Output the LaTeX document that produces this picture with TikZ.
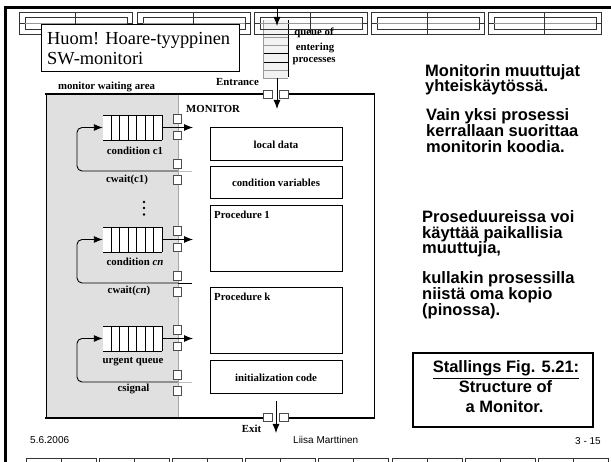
\documentclass[tikz,border=0pt]{standalone}
\usepackage{fontspec}
\setmainfont{Liberation Serif}
\setsansfont{Liberation Sans}
\usetikzlibrary{arrows.meta}
\begin{document}
\begin{tikzpicture}[x=1pt,y=-1pt,
  figlab/.style={font=\fontsize{10.8}{13}\selectfont\bfseries, inner sep=0pt},
  slidetxt/.style={font=\sffamily\bfseries\fontsize{16.5}{16}\selectfont, inner sep=0pt, anchor=base west},
  foot/.style={font=\sffamily\fontsize{10}{12}\selectfont, inner sep=0pt},
  gate/.style={draw=black!70, fill=white, line width=0.6pt, minimum size=8.5pt, inner sep=0pt},
  arr/.style={-{Latex[length=9pt,width=7pt]}, line width=0.9pt},
  strip/.style={draw=black!80, line width=0.7pt},
  mbox/.style={draw, line width=1pt, minimum width=132pt, inner sep=0pt, figlab},
]
\useasboundingbox (0,0) rectangle (611,462);
\fill[white] (0,0) rectangle (611,462);

% slide frame
\draw[line width=2.6pt] (5.5,462) -- (5.5,7.3) -- (611,7.3);

% entrance queue
\fill[black!5] (263,20) rectangle (288,78);
\foreach \yy/\cc in {29/black,37/black!40,45/black!40,53/black,62/black,70/black!40,78/black!40}
  \draw[\cc, line width=0.7pt] (263,\yy) -- (288,\yy);
\draw[black!40, line width=0.6pt] (263,20) -- (263,78);
\draw[line width=0.9pt] (288,20) -- (288,77);
\node[minimum width=25pt, minimum height=58pt, inner sep=0pt] (entq) at (275.5,49) {};

% top decorative strip
\foreach \x in {19,137,254,371,488}{
  \draw[strip] (\x,12) rectangle ++(113,22);
  \draw[strip] (\x+6,17) rectangle ++(102,12);
  \draw[strip] (\x,23) -- ++(6,0) (\x+108,23) -- ++(5,0);
  \draw[black!40, line width=0.6pt] (\x+6,23) -- ++(102,0);
  \draw[strip] (\x+56.5,12) -- ++(0,22);
}
% bottom decorative strip
\foreach \i in {0,...,7}{
  \pgfmathsetmacro\bx{26+73.2*\i}
  \draw[strip] (\bx,470) -- (\bx,458) -- (\bx+70,458) -- (\bx+70,470);
  \draw[strip] (\bx+35,458) -- (\bx+35,470);
}

% Huom box
\node[draw, line width=1.2pt, fill=white, minimum width=198pt, minimum height=47pt, anchor=north west] (huom) at (41,24) {};
\node[font=\fontsize{18.4}{20}\selectfont, inner sep=0pt, anchor=base west] (huom1) at (47,45) {Huom! Hoare-tyyppinen};
\node[font=\fontsize{18.4}{20}\selectfont, inner sep=0pt, anchor=base west] (huom2) at (47,65) {SW-monitori};

% entrance arrows and labels
\coordinate (entTop) at (277,7.3);
\coordinate (entIn) at (277,26);
\coordinate (entOut) at (277,78);
\coordinate (entTip) at (277,109);
\draw[arr] (entTop) -- (entIn);
\node[figlab, anchor=base] (lq1) at (314,36) {queue of};
\node[figlab, anchor=base] (lq2) at (315,51) {entering};
\node[figlab, anchor=base] (lq3) at (314,63) {processes};
\node[figlab, anchor=base] (lent) at (237.5,85.5) {Entrance};
\node[figlab, anchor=base] (lmwa) at (106.5,89.5) {monitor waiting area};

% monitor outline
\fill[black!12] (46,95) rectangle (178,417);
\draw[line width=0.8pt] (46,95) -- (46,417);
\draw[black!35, line width=0.6pt] (178,95) -- (178,417);
\draw[line width=0.8pt] (374,94) -- (374,418);
\draw[line width=2pt] (45,94) -- (264,94) (288,94) -- (375,94);
\draw[line width=2pt] (45,418) -- (264,418) (288,418) -- (375,418);
\draw[arr] (entOut) -- (entTip);
\node[gate] (eg1) at (268,94.5) {};
\node[gate] (eg2) at (284,94.5) {};
\node[figlab, anchor=base west] (lmon) at (186,113) {MONITOR};

% exit
\coordinate (exA) at (276,401);
\coordinate (exB) at (276,433);
\draw[arr] (exA) -- (exB);
\node[gate] (xg1) at (268,417.5) {};
\node[gate] (xg2) at (284,417.5) {};
\node[figlab, anchor=base] (lexit) at (251.5,432.5) {Exit};

% monitor contents
\node[mbox, minimum height=33pt] (local) at (276,144.5) {local data};
\node[mbox, minimum height=32pt] (condv) at (276,183) {condition variables};
\node[mbox, minimum height=66pt] (proc1) at (276,239) {};
\node[mbox, minimum height=66pt] (prock) at (276,321) {};
\node[mbox, minimum height=33pt] (init) at (276,377.5) {initialization code};
\node[figlab, anchor=base west] (lp1) at (214,218.5) {Procedure 1};
\node[figlab, anchor=base west] (lpk) at (214,300.5) {Procedure k};

% queues in waiting area
\foreach \n/\ay/\ly/\ec in {1/127.5/171/black!25, 2/239.5/283/black, 3/338.5/382/black!25}{
  \node[fill=white, minimum width=59pt, minimum height=25pt, inner sep=0pt] (q\n) at (132.5,\ay) {};
  \draw[line width=0.7pt] (103,\ay-12.5) -- (162,\ay-12.5) (103,\ay+12.5) -- (162,\ay+12.5);
  \foreach \k in {0,...,6} \draw[line width=0.6pt] (111+8.5*\k,\ay-12.5) -- ++(0,25);
  \coordinate (out\n) at (193,\ay);
  \coordinate (lp\n) at (178,\ly);
  \coordinate (lpe\n) at (192,\ly);
  \draw[\ec, line width=0.9pt] (lp\n) -- (lpe\n);
  \draw[arr, rounded corners=5pt] (lp\n) -- (77,\ly) -- (77,\ay) -- (q\n.west);
  \draw[arr] (q\n.east) -- (out\n);
  \node[gate] (ga\n) at (177.5,\ay-8.5) {};
  \node[gate] (gb\n) at (177.5,\ay+8) {};
  \node[gate] (gc\n) at (177.5,\ly-7) {};
  \node[gate] (gd\n) at (177.5,\ly+9) {};
}
\node[figlab, anchor=base] (lc1) at (135,154.5) {condition c1};
\node[figlab, anchor=base] (lw1) at (127,182.5) {cwait(c1)};
\node[figlab, anchor=base] (lcn) at (135,265.5) {condition \textit{cn}};
\node[figlab, anchor=base] (lwn) at (129,293.5) {cwait(\textit{cn})};
\node[figlab, anchor=base] (lu) at (133,363.5) {urgent queue};
\node[figlab, anchor=base] (ls) at (133.5,391.5) {csignal};
\foreach \yy in {202,208,214.5} \fill (144,\yy) circle (1.3pt);

% slide texts
\node[slidetxt] (t1) at (425,76.5) {Monitorin muuttujat};
\node[slidetxt] (t2) at (425,92) {yhteiskäytössä.};
\node[slidetxt] (t3) at (426,120.5) {Vain yksi prosessi};
\node[slidetxt] (t4) at (426,137) {kerrallaan suorittaa};
\node[slidetxt] (t5) at (426,153) {monitorin koodia.};
\node[slidetxt] (t6) at (422,223) {Proseduureissa voi};
\node[slidetxt] (t7) at (422,238.5) {käyttää paikallisia};
\node[slidetxt] (t8) at (422,254) {muuttujia,};
\node[slidetxt] (t9) at (422,284) {kullakin prosessilla};
\node[slidetxt] (t10) at (422,300) {niistä oma kopio};
\node[slidetxt] (t11) at (422,316) {(pinossa).};

\node[draw, line width=1.8pt, minimum width=180pt, minimum height=74pt, inner sep=0pt] (stbox) at (503,390) {};
\node[slidetxt, anchor=base] (s1) at (506,373) {\underline{Stallings Fig. 5.21:}};
\node[slidetxt, anchor=base] (s2) at (505.5,392.5) {Structure of};
\node[slidetxt, anchor=base] (s3) at (504.5,413) {a Monitor.};

% footer
\node[foot, anchor=base west] (fdate) at (30,443.6) {5.6.2006};
\node[foot, anchor=base west] (fname) at (293,443.6) {Liisa Marttinen};
\node[foot, anchor=base east] (fpage) at (601,444.5) {3 - 15};
\end{tikzpicture}
\end{document}
